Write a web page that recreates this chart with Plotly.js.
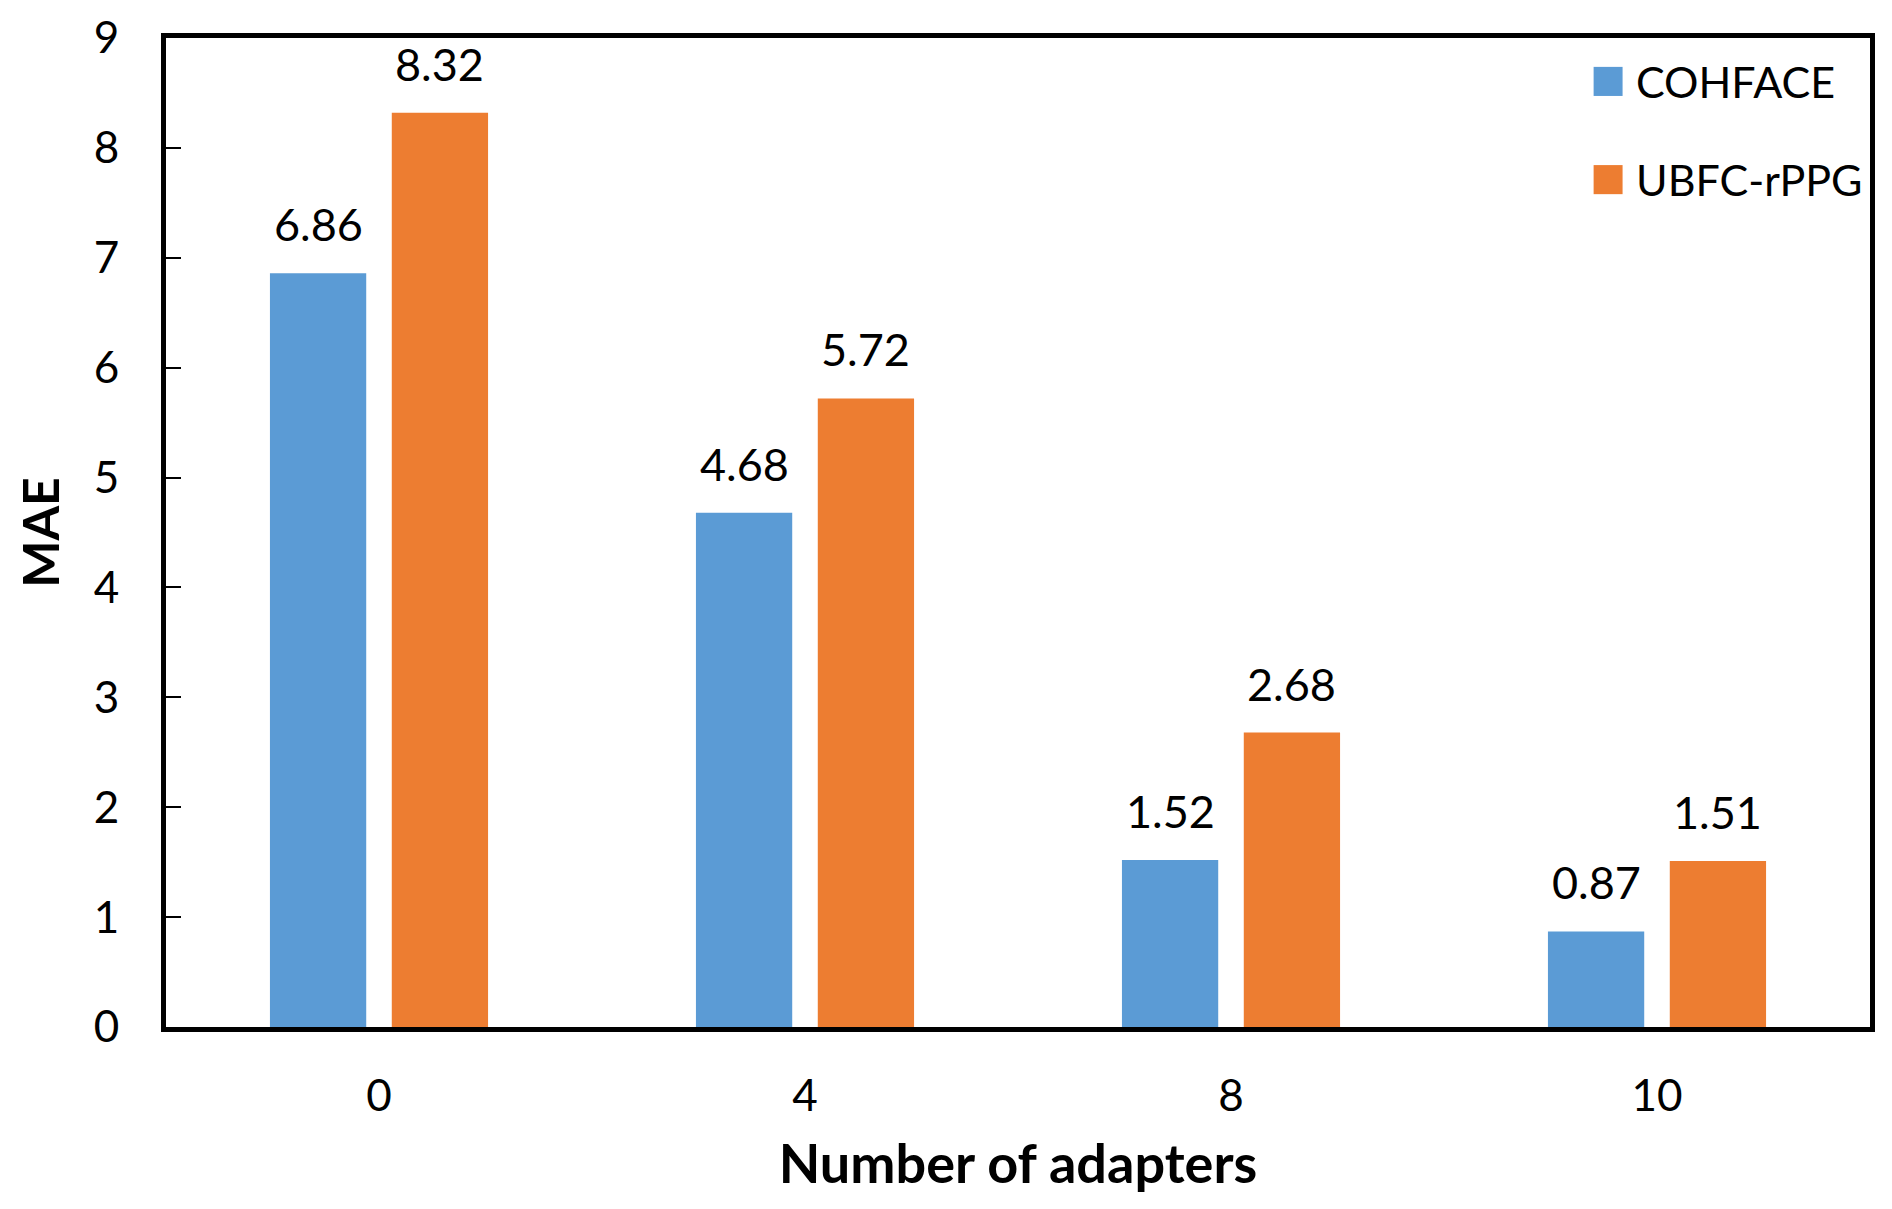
<!DOCTYPE html>
<html>
<head>
<meta charset="utf-8">
<script src="https://cdn.plot.ly/plotly-3.0.1.min.js"></script>
<style>
  html, body { margin: 0; padding: 0; background: #fff; }
  #chart { width: 1892px; height: 1209px; }
</style>
</head>
<body>
<div id="chart"></div>
<script>
// values
var adapters = ['0', '4', '8', '10'];
var cohface = [6.86, 4.68, 1.52, 0.87];
var ubfc = [8.32, 5.72, 2.68, 1.51];
var seriesNames = ['COHFACE', 'UBFC-rPPG'];
var seriesColors = ['#5B9BD5', '#ED7D31'];
var yTicks = [0, 1, 2, 3, 4, 5, 6, 7, 8, 9];

var FONT = 'Lato, "Open Sans", sans-serif';
var barWidth = 0.226;
var offsets = [-0.256, 0.030];

var traces = [cohface, ubfc].map(function (vals, k) {
    return {
        type: 'bar',
        name: seriesNames[k],
        x: adapters,
        y: vals,
        width: barWidth,
        offset: offsets[k],
        marker: { color: seriesColors[k], line: { width: 0 } },
        showlegend: false,
        hoverinfo: 'x+y'
    };
});

// value labels above each bar
var annotations = [];
[cohface, ubfc].forEach(function (vals, k) {
    vals.forEach(function (v, i) {
        annotations.push({
            x: i + offsets[k] + barWidth / 2,
            y: v,
            xref: 'x', yref: 'y',
            text: v.toFixed(2),
            showarrow: false,
            xanchor: 'center', yanchor: 'middle',
            yshift: 49,
            font: { family: FONT, size: 45, color: '#000' }
        });
    });
});

// hand-made legend, the built-in one draws its swatches too small
var legendRows = [0.9561, 0.8568];
var shapes = [];
seriesNames.forEach(function (name, k) {
    shapes.push({
        type: 'rect', xref: 'paper', yref: 'paper',
        x0: 0.8378, x1: 0.8548,
        y0: legendRows[k] - 0.0147, y1: legendRows[k] + 0.0147,
        fillcolor: seriesColors[k], line: { width: 0 }
    });
    annotations.push({
        x: 0.8617, y: legendRows[k], xref: 'paper', yref: 'paper',
        text: name, showarrow: false,
        xanchor: 'left', yanchor: 'middle',
        font: { family: FONT, size: 43, color: '#000' }
    });
});

var layout = {
    width: 1892,
    height: 1209,
    margin: { l: 166, r: 22, t: 38, b: 182 },
    paper_bgcolor: '#fff',
    plot_bgcolor: '#fff',
    font: { family: FONT, color: '#000' },
    barmode: 'group',
    showlegend: false,
    xaxis: {
        type: 'category',
        categoryorder: 'array',
        categoryarray: adapters,
        range: [-0.5, 3.5],
        showline: true, linecolor: '#000', linewidth: 5, mirror: true,
        ticks: '', showgrid: false, zeroline: false,
        tickfont: { family: FONT, size: 44, color: '#000' },
        ticklabelstandoff: 26,
        title: {
            text: '<b>Number of adapters</b>',
            font: { family: FONT, size: 54, color: '#000' },
            standoff: 28
        }
    },
    yaxis: {
        range: [0, 9],
        tickmode: 'array',
        tickvals: yTicks,
        ticktext: yTicks.map(String),
        showline: true, linecolor: '#000', linewidth: 5, mirror: true,
        ticks: 'inside', ticklen: 15, tickwidth: 2, tickcolor: '#000',
        showgrid: false, zeroline: false,
        tickfont: { family: FONT, size: 44, color: '#000' },
        ticklabelstandoff: 33,
        title: {
            text: '<b>MAE</b>',
            font: { family: FONT, size: 50, color: '#000' },
            standoff: 20
        }
    },
    shapes: shapes,
    annotations: annotations
};

Plotly.newPlot('chart', traces, layout, { displayModeBar: false, staticPlot: true });
</script>
</body>
</html>
